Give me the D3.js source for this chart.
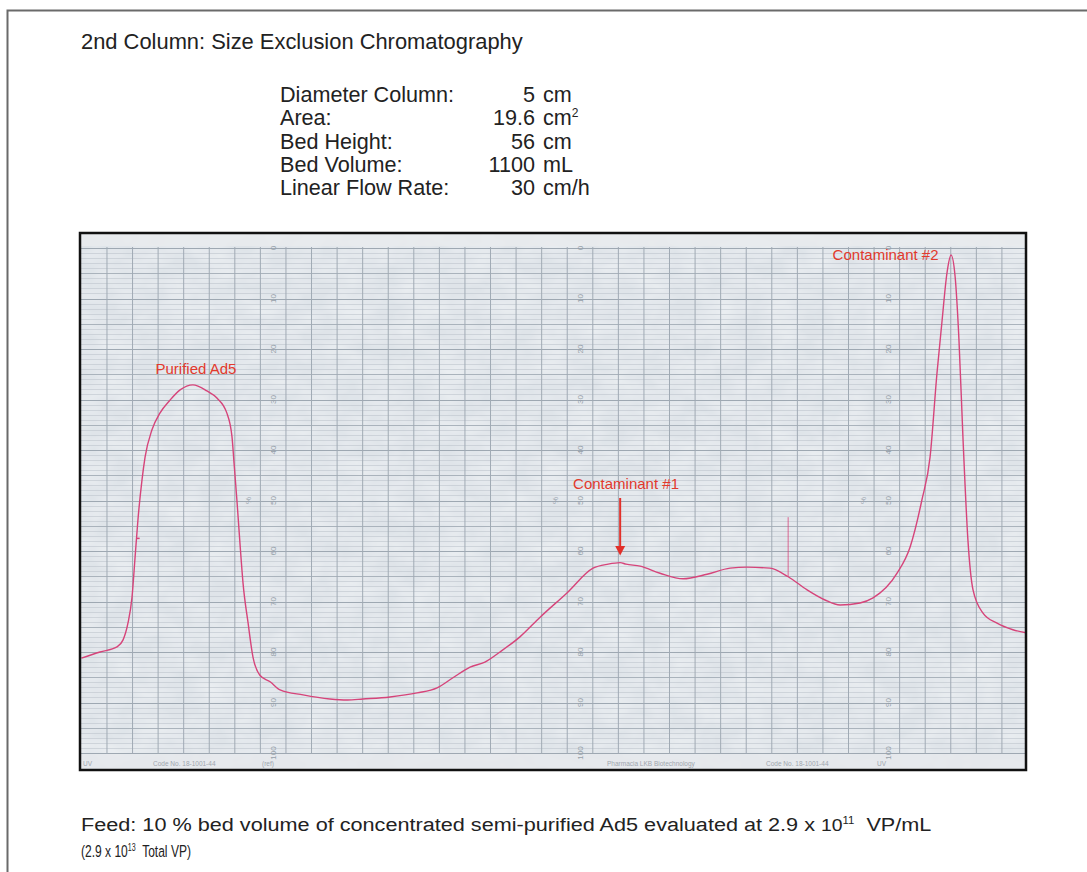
<!DOCTYPE html>
<html>
<head>
<meta charset="utf-8">
<script src="https://cdn.jsdelivr.net/npm/d3@7"></script>
<style>
  body { margin: 0; background: #fff; }
  svg { display: block; font-family: "Liberation Sans", Arial, Helvetica, sans-serif; }
</style>
</head>
<body>
<svg id="chart"></svg>
<script>
'use strict';

// column parameters
var paramNames = ["Diameter Column:", "Area:", "Bed Height:", "Bed Volume:", "Linear Flow Rate:"];
var paramValues = ["5", "19.6", "56", "1100", "30"];
var paramUnits = ["cm", "cm", "cm", "mL", "cm/h"];
var paramSup = ["", "2", "", "", ""];

// recorder trace: x in chart divisions, y as chart-paper reading (0 top, 100 bottom)
var traceDiv = [0, 0.73, 1.39, 1.63, 1.82, 1.98, 2.10, 2.21, 2.37, 2.49, 2.76, 3.07, 3.47, 3.86, 4.36,
  4.91, 5.30, 5.69, 5.89, 5.97, 6.09, 6.20, 6.32, 6.52, 6.71, 6.98, 7.38, 7.77, 8.67, 9.72, 10.4,
  11.01, 12.07, 13.13, 13.91, 14.53, 15.20, 15.78, 16.37, 17.15, 17.94, 18.99, 20.01, 20.6, 21.07,
  21.3, 21.85, 22.63, 23.53, 24.47, 25.37, 26.03, 26.93, 27.64, 28.38, 29.08,
  29.67, 30.45, 30.96, 31.90, 32.41, 32.87, 33.19, 33.46, 33.65, 33.85, 34.01, 34.17, 34.32, 34.48,
  34.67, 34.87, 35.26, 35.81, 36.43, 36.94];
var traceReading = [81.2, 80.0, 79.0, 77.6, 74.3, 69.1, 61.2, 53.9, 45.9, 41.4, 36.0, 32.7, 30.1, 28.1, 27.1,
  28.3, 29.7, 32.7, 37.4, 42.6, 50.5, 58.4, 66.3, 74.3, 81.0, 84.6, 85.9, 87.5, 88.5, 89.3, 89.5,
  89.3, 88.9, 88.1, 87.1, 85.1, 83.0, 82.0, 80.0, 77.0, 73.1, 68.3, 63.4, 62.6, 62.3,
  62.6, 63.0, 64.4, 65.5, 64.6, 63.4, 63.2, 63.4, 65.1, 67.7, 69.7,
  70.7, 70.3, 69.3, 64.4, 59.2, 49.9, 41.4, 24.8, 14.9, 5.0, 1.4, 5.7, 18.2, 38.0,
  57.8, 67.7, 72.3, 74.3, 75.6, 76.2];

// chart paper scale
var scaleLabels = [0, 10, 20, 30, 40, 50, 60, 70, 80, 90, 100];
var labelColumns = [7.49, 19.5, 31.54];

// peak labels
var peakNames = ["Purified Ad5", "Contaminant #1", "Contaminant #2"];
var peakDiv = [4.48, 21.3, 31.45];
var peakReading = [23.9, 46.6, 1.4];

var W = 1087, H = 872;
var svg = d3.select("#chart").attr("width", W).attr("height", H);

var paper = {left: 80, top: 233, right: 1026, bottom: 770};
var x = d3.scaleLinear().domain([0, 37]).range([81.4, 81.4 + 37 * 25.57]);
var y = d3.scaleLinear().domain([0, 100]).range([248, 753]);

var defs = svg.append("defs");
defs.append("clipPath").attr("id", "paperClip")
  .append("rect")
  .attr("x", paper.left).attr("y", paper.top)
  .attr("width", paper.right - paper.left).attr("height", paper.bottom - paper.top);

var tex = defs.append("filter").attr("id", "mottle").attr("x", 0).attr("y", 0).attr("width", 1).attr("height", 1);
tex.append("feTurbulence").attr("type", "fractalNoise").attr("baseFrequency", "0.03 0.05")
  .attr("numOctaves", 3).attr("seed", 4).attr("result", "noise");
tex.append("feColorMatrix").attr("in", "noise").attr("type", "matrix")
  .attr("values", "0 0 0 0 0.93  0 0 0 0 0.95  0 0 0 0 0.97  0 0 0 0.7 -0.2")
  .attr("result", "spots");
tex.append("feComposite").attr("in", "spots").attr("in2", "SourceGraphic").attr("operator", "atop");

// outer frame
svg.append("path")
  .attr("d", "M7.5," + H + "V10.5H" + W)
  .attr("fill", "none").attr("stroke", "#6a6a6a").attr("stroke-width", 2);

// title and parameter table
svg.append("text")
  .attr("x", 81).attr("y", 49)
  .attr("font-size", 21.9).attr("fill", "#222")
  .text("2nd Column: Size Exclusion Chromatography");

var rows = svg.append("g").attr("font-size", 21.6).attr("fill", "#222");
paramNames.forEach(function (name, i) {
  var by = 102 + i * 23.3;
  rows.append("text").attr("x", 280).attr("y", by).text(name);
  rows.append("text").attr("x", 535).attr("y", by).attr("text-anchor", "end").text(paramValues[i]);
  var u = rows.append("text").attr("x", 543).attr("y", by).text(paramUnits[i]);
  if (paramSup[i]) {
    u.append("tspan").attr("dy", -8).attr("font-size", 12).text(paramSup[i]);
  }
});

// chart paper
var chart = svg.append("g").attr("clip-path", "url(#paperClip)");
chart.append("rect")
  .attr("x", paper.left).attr("y", paper.top)
  .attr("width", paper.right - paper.left).attr("height", paper.bottom - paper.top)
  .attr("fill", "#dfe4e9").attr("filter", "url(#mottle)");
chart.append("rect")
  .attr("x", paper.left).attr("y", paper.top)
  .attr("width", paper.right - paper.left).attr("height", 13)
  .attr("fill", "#e8ebee").attr("opacity", 0.8);
chart.append("rect")
  .attr("x", paper.left).attr("y", 754)
  .attr("width", paper.right - paper.left).attr("height", 16)
  .attr("fill", "#e6e9ec").attr("opacity", 0.8);

chart.selectAll("line.h")
  .data(d3.range(0, 101))
  .enter().append("line")
  .attr("class", "h")
  .attr("x1", paper.left).attr("x2", paper.right)
  .attr("y1", function (d) { return Math.round(y(d)) + 0.5; })
  .attr("y2", function (d) { return Math.round(y(d)) + 0.5; })
  .attr("stroke", function (d) { return d % 10 === 0 ? "#9ea8b2" : d % 5 === 0 ? "#aab3bc" : "#bdc5cd"; })
  .attr("stroke-width", function (d) { return d % 5 === 0 ? 1 : 0.6; });

chart.selectAll("line.v")
  .data(d3.range(1, 37))
  .enter().append("line")
  .attr("class", "v")
  .attr("x1", function (d) { return x(d); })
  .attr("x2", function (d) { return x(d); })
  .attr("y1", 247).attr("y2", 754)
  .attr("stroke", "#a0aab4").attr("stroke-width", 1);

// printed scale numbers on the paper
labelColumns.forEach(function (c) {
  chart.selectAll(null)
    .data(scaleLabels)
    .enter().append("text")
    .attr("transform", function (d) { return "translate(" + x(c) + "," + y(d) + ") rotate(-90)"; })
    .attr("text-anchor", "middle").attr("dy", "0.35em")
    .attr("font-size", 8).attr("fill", "#959fa9")
    .text(function (d) { return d; });
  chart.append("text")
    .attr("transform", "translate(" + (x(c) - 25) + "," + y(50) + ") rotate(-90)")
    .attr("text-anchor", "middle").attr("dy", "0.35em")
    .attr("font-size", 8).attr("fill", "#9aa4ae").text("%");
});

// paper footer print
var footPrint = chart.append("g").attr("font-size", 6.5).attr("fill", "#9ea6ae");
footPrint.append("text").attr("x", 83).attr("y", 766).text("UV");
footPrint.append("text").attr("x", 153).attr("y", 766).text("Code No. 18-1001-44");
footPrint.append("text").attr("x", 262).attr("y", 766).text("(ref)");
footPrint.append("text").attr("x", 607).attr("y", 766).text("Pharmacia LKB Biotechnology");
footPrint.append("text").attr("x", 766).attr("y", 766).text("Code No. 18-1001-44");
footPrint.append("text").attr("x", 877).attr("y", 766).text("UV");

// recorder trace
var points = traceDiv.map(function (d, i) { return [d, traceReading[i]]; });
var line = d3.line()
  .x(function (d) { return x(d[0]); })
  .y(function (d) { return y(d[1]); })
  .curve(d3.curveMonotoneX);

chart.append("path")
  .datum(points)
  .attr("d", line)
  .attr("fill", "none")
  .attr("stroke", "#d6447a")
  .attr("stroke-width", 1.4);

// event marker pen strokes
chart.append("line")
  .attr("x1", x(27.64)).attr("x2", x(27.64))
  .attr("y1", y(53.3)).attr("y2", y(65.1))
  .attr("stroke", "#d6447a").attr("stroke-width", 0.8);
chart.append("line")
  .attr("x1", x(2.2) - 1).attr("x2", x(2.2) + 2)
  .attr("y1", y(57.5)).attr("y2", y(57.5))
  .attr("stroke", "#d6447a").attr("stroke-width", 1.5);

// peak labels
chart.selectAll("text.peak")
  .data(peakNames)
  .enter().append("text")
  .attr("class", "peak")
  .attr("x", function (d, i) { return x(peakDiv[i]); })
  .attr("y", function (d, i) { return y(peakReading[i]); })
  .attr("text-anchor", "middle").attr("dy", "0.35em")
  .attr("font-size", 15).attr("fill", "#e2392c")
  .text(function (d) { return d; });

// arrow to contaminant #1
var ax = x(21.07);
chart.append("line")
  .attr("x1", ax).attr("x2", ax)
  .attr("y1", y(49.5)).attr("y2", y(59.5))
  .attr("stroke", "#e2302a").attr("stroke-width", 2);
chart.append("path")
  .attr("d", "M" + (ax - 5) + "," + y(59) + "L" + (ax + 5) + "," + y(59) + "L" + ax + "," + y(60.9) + "Z")
  .attr("fill", "#e2302a");

// frame around chart paper
svg.append("rect")
  .attr("x", paper.left).attr("y", paper.top)
  .attr("width", paper.right - paper.left).attr("height", paper.bottom - paper.top)
  .attr("fill", "none").attr("stroke", "#111").attr("stroke-width", 2.5);

// feed note
var feed1 = svg.append("text").attr("font-size", 19).attr("fill", "#222");
feed1.append("tspan").text("Feed: 10 % bed volume of concentrated semi-purified Ad5 evaluated at 2.9 x ");
feed1.append("tspan").attr("font-size", 17).text("10");
feed1.append("tspan").attr("font-size", 10).attr("dy", -7).text("11");
feed1.append("tspan").attr("dy", 7).text("\u00a0 VP/mL");

var feed2 = svg.append("text").attr("font-size", 17).attr("fill", "#222");
feed2.append("tspan").text("(2.9 x 10");
feed2.append("tspan").attr("font-size", 10).attr("dy", -6).text("13");
feed2.append("tspan").attr("dy", 6).text("\u00a0 Total VP)");

function fitWidth(sel, left, base, width) {
  var w = sel.node().getBBox().width;
  sel.attr("transform", "translate(" + left + "," + base + ") scale(" + (width / w) + ",1)");
}
fitWidth(feed1, 81, 831, 851);
fitWidth(feed2, 81, 857, 110);
</script>
</body>
</html>
